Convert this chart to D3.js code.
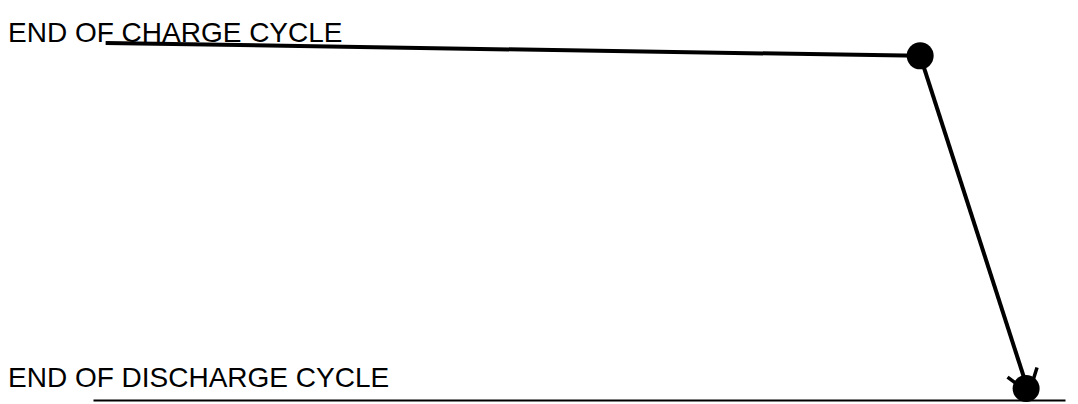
<!DOCTYPE html>
<html>
<head>
<meta charset="utf-8">
<script src="https://cdn.jsdelivr.net/npm/d3@7"></script>
<style>
  body { margin: 0; background: #fff; }
  svg { display: block; }
  text { font-family: "Liberation Sans", Arial, sans-serif; }
</style>
</head>
<body>
<div id="chart"></div>
<script>
// charge level (%) over time (% of cycle)
const times = [1.3, 85.1, 96.0];
const levels = [100, 96.4, 3.2];
// where the discharge arrow points to
const arrowTip = { t: 96.3, v: 1.9 };
const labels = ["END OF CHARGE CYCLE", "END OF DISCHARGE CYCLE"];
const labelLevels = [100.4, 3.6];

const width = 1078, height = 404;

const svg = d3.select("#chart").append("svg")
    .attr("width", width)
    .attr("height", height);

const x = d3.scaleLinear().domain([0, 100]).range([93, 1065]);
const y = d3.scaleLinear().domain([0, 100]).range([400, 43]);

const data = times.map((t, i) => ({ t: t, v: levels[i] }));

// open V arrowhead
svg.append("defs").append("marker")
    .attr("id", "arrow")
    .attr("viewBox", "-2 -2 26 35")
    .attr("refX", 22)
    .attr("refY", 15.5)
    .attr("markerWidth", 26)
    .attr("markerHeight", 35)
    .attr("markerUnits", "userSpaceOnUse")
    .attr("orient", "auto")
  .append("path")
    .attr("d", "M0,0 L22,15.5 L0,31")
    .attr("fill", "none")
    .attr("stroke", "#000")
    .attr("stroke-width", 3.5);

// bottom axis line
svg.append("g")
    .attr("transform", `translate(0,${y(0)})`)
    .call(d3.axisBottom(x).ticks(0).tickSize(0).tickFormat(""))
    .call(g => g.select(".domain").attr("stroke", "#000").attr("stroke-width", 2));

// labels
svg.selectAll("text.label")
  .data(labels)
  .join("text")
    .attr("class", "label")
    .attr("x", 8)
    .attr("y", (d, i) => y(labelLevels[i]))
    .attr("font-size", 28)
    .attr("fill", "#000")
    .text(d => d);

const line = d3.line().x(d => x(d.t)).y(d => y(d.v));

// flat charge segment
svg.append("path")
    .datum(data.slice(0, 2))
    .attr("fill", "none")
    .attr("stroke", "#000")
    .attr("stroke-width", 4)
    .attr("d", line);

// discharge drop with arrow
svg.append("path")
    .datum([data[1], arrowTip])
    .attr("fill", "none")
    .attr("stroke", "#000")
    .attr("stroke-width", 4)
    .attr("marker-end", "url(#arrow)")
    .attr("d", line);

// end points
svg.selectAll("circle")
  .data(data.slice(1))
  .join("circle")
    .attr("cx", d => x(d.t))
    .attr("cy", d => y(d.v))
    .attr("r", 13.5)
    .attr("fill", "#000");
</script>
</body>
</html>
